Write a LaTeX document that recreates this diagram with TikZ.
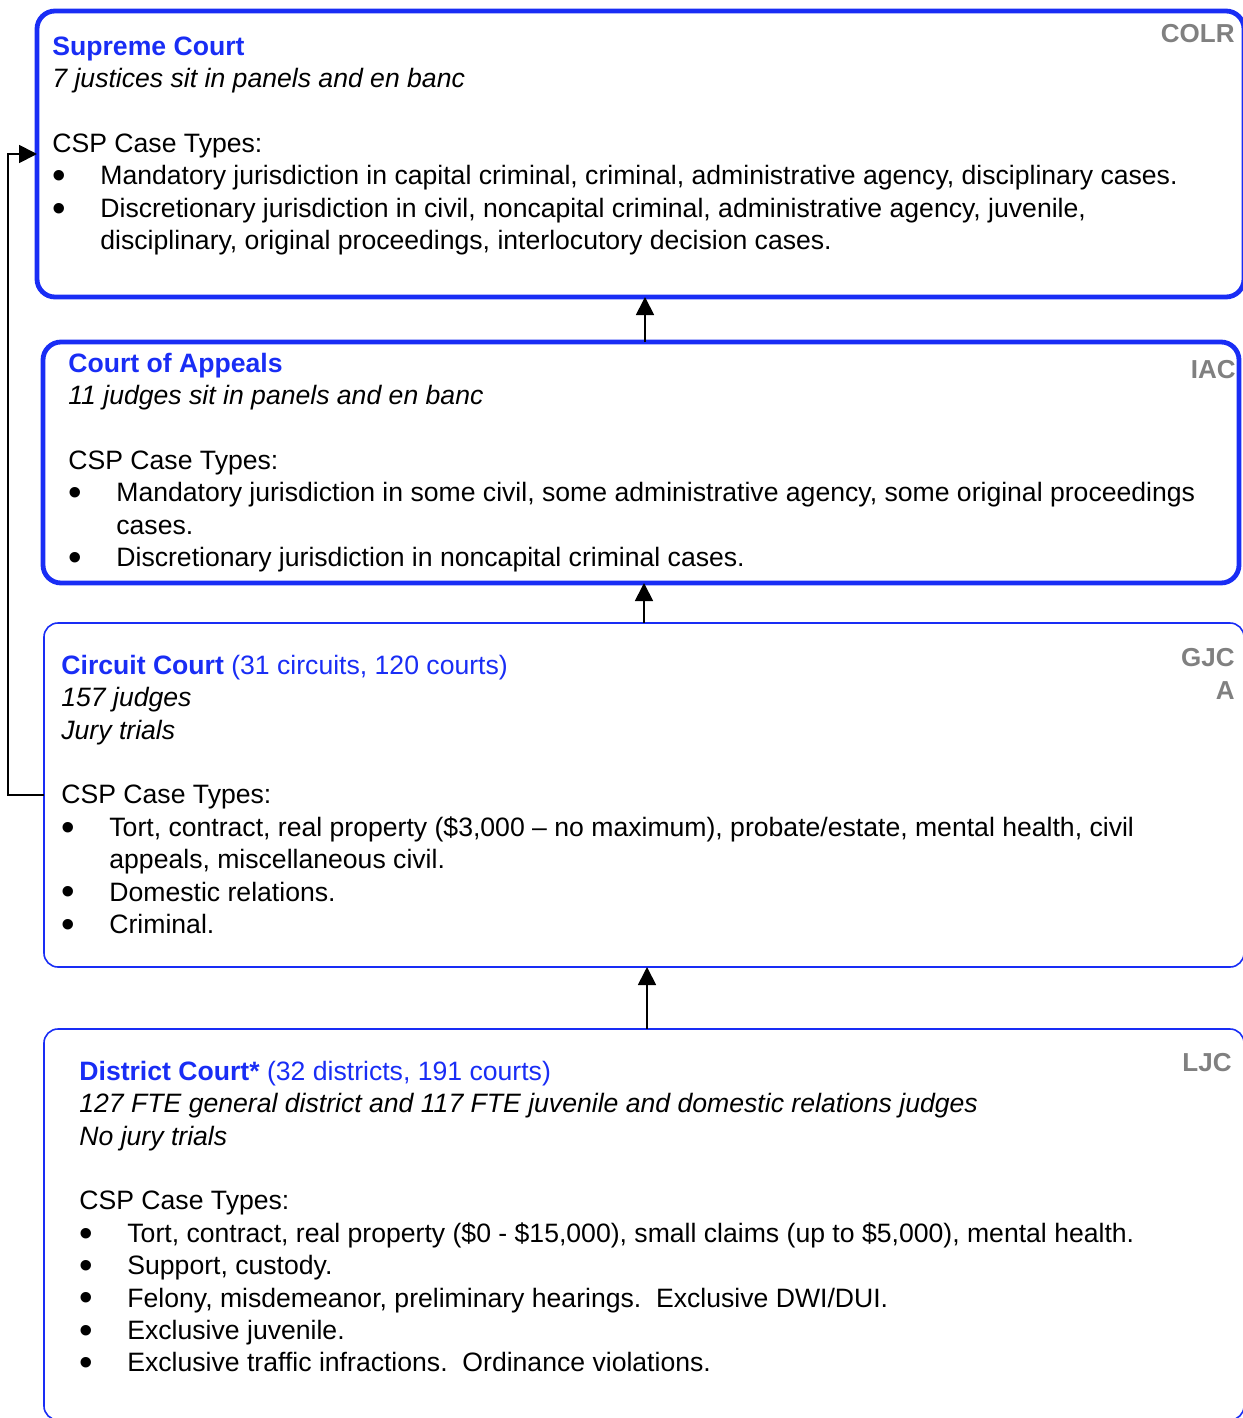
\documentclass[tikz,border=0pt]{standalone}
\usepackage{fontspec}
\setmainfont{Liberation Sans}
\usetikzlibrary{positioning,arrows.meta,calc}
\definecolor{courtblue}{RGB}{25,45,245}
\definecolor{tiergray}{RGB}{128,128,128}
\newcommand{\bul}{\makebox[24pt][l]{\raisebox{-1.9pt}[0pt][0pt]{\scalebox{1.45}{\textbullet}}}}
\newcommand{\hang}{\hspace*{24pt}}
\newcommand{\ctitle}[1]{\textbf{#1}}
\tikzset{
  courtarr/.style={-{Triangle[length=9pt,width=9pt]},line width=0.9pt},
  courtbox/.style={draw=courtblue,anchor=north west,outer sep=0pt,inner sep=0pt},
  thickbox/.style={courtbox,line width=2.4pt,rounded corners=9pt},
  thinbox/.style={courtbox,line width=0.8pt,rounded corners=7pt},
  courttext/.style={anchor=north west,align=left,inner sep=0pt,
                    font=\fontsize{13.3pt}{16.2pt}\selectfont},
  tier/.style={anchor=north east,align=right,inner sep=0pt,text=tiergray,
               font=\fontsize{13pt}{16.5pt}\selectfont\bfseries}
}

\begin{document}
\begin{tikzpicture}[x=0.5pt,y=-0.5pt]
\useasboundingbox (0,0) rectangle (1242,1418);

% court boxes
\node[thickbox, minimum width=603.5pt, minimum height=143pt] (supreme) at (37,11) {};
\node[thickbox, minimum width=598pt, minimum height=120.5pt] (appeals) at (43,342) {};
\node[thinbox, minimum width=600pt, minimum height=172pt] (circuit) at (44,623) {};
\node[thinbox, minimum width=600pt, minimum height=195.5pt] (district) at (44,1029) {};

% texts
\node[courttext] (supremetxt) at (52,32.25)
  {\strut\textcolor{courtblue}{\ctitle{Supreme Court}}\\
   \textit{7 justices sit in panels and en banc}\\[16.2pt]
   CSP Case Types:\\
   \bul Mandatory jurisdiction in capital criminal, criminal, administrative agency, disciplinary cases.\\
   \bul Discretionary jurisdiction in civil, noncapital criminal, administrative agency, juvenile,\\
   \hang disciplinary, original proceedings, interlocutory decision cases.};
\node[courttext] (appealstxt) at (68,349.25)
  {\strut\textcolor{courtblue}{\ctitle{Court of Appeals}}\\
   \textit{11 judges sit in panels and en banc}\\[16.2pt]
   CSP Case Types:\\
   \bul Mandatory jurisdiction in some civil, some administrative agency, some original proceedings\\
   \hang cases.\\
   \bul Discretionary jurisdiction in noncapital criminal cases.};
\node[courttext] (circuittxt) at (61,651.25)
  {\strut\textcolor{courtblue}{\ctitle{Circuit Court} (31 circuits, 120 courts)}\\
   \textit{157 judges}\\
   \textit{Jury trials}\\[16.2pt]
   CSP Case Types:\\
   \bul Tort, contract, real property (\$3,000 -- no maximum), probate/estate, mental health, civil\\
   \hang appeals, miscellaneous civil.\\
   \bul Domestic relations.\\
   \bul Criminal.};
\node[courttext] (districttxt) at (79,1057.25)
  {\strut\textcolor{courtblue}{\ctitle{District Court*} (32 districts, 191 courts)}\\
   \textit{127 FTE general district and 117 FTE juvenile and domestic relations judges}\\
   \textit{No jury trials}\\[16.2pt]
   CSP Case Types:\\
   \bul Tort, contract, real property (\$0 - \$15,000), small claims (up to \$5,000), mental health.\\
   \bul Support, custody.\\
   \bul Felony, misdemeanor, preliminary hearings.\ \ Exclusive DWI/DUI.\\
   \bul Exclusive juvenile.\\
   \bul Exclusive traffic infractions.\ \ Ordinance violations.};

% level labels
\node[tier] (colr) at (1235,19.25) {\strut COLR};
\node[tier] (iac) at (1236,355.25) {\strut IAC};
\node[tier] (gjca) at (1235,642.75) {\strut GJC\\A};
\node[tier] (ljc) at (1232,1048.25) {\strut LJC};

% appeal routes
\draw[courtarr] ([xshift=2pt]appeals.north) -- ([xshift=2pt]appeals.north |- supreme.south);
\draw[courtarr] (circuit.north) -- (circuit.north |- appeals.south);
\draw[courtarr] ([xshift=1.5pt]district.north) -- ([xshift=1.5pt]district.north |- circuit.south);
\draw[courtarr] (circuit.west) -- ++(-36,0) |- (supreme.west);
\end{tikzpicture}
\end{document}
